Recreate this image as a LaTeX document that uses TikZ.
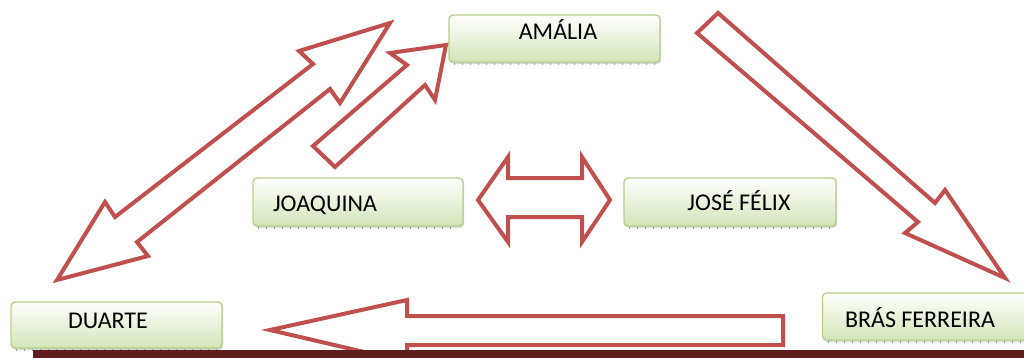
\documentclass[tikz,border=0pt]{standalone}
\usepackage{fontspec}
\setmainfont{Carlito}
\usetikzlibrary{shadows}
\definecolor{arrowred}{HTML}{C0504D}
\definecolor{boxline}{HTML}{B5CF87}
\definecolor{boxbottom}{HTML}{D3E5B8}
\definecolor{barcol}{HTML}{5E1E1E}
\tikzset{
  box/.style={draw=boxline, line width=1.4pt, rounded corners=4pt, top color=white, bottom color=boxbottom,
    drop shadow={shadow xshift=1.2pt, shadow yshift=-2pt, opacity=0.45, fill=gray!70}, inner sep=0pt},
  lbl/.style={inner sep=0pt, text height=15.5pt, text depth=0pt, font=\fontsize{24}{28}\selectfont},
  blockarrow/.style={draw=arrowred, line width=4pt, fill=white, line join=miter, miter limit=6},
  ticks/.style={draw=gray!80, line width=2pt, dash pattern=on 1pt off 7pt}
}
\begin{document}
\begin{tikzpicture}[x=1pt,y=-1pt]
\useasboundingbox (0,0) rectangle (1024,358);
% boxes
\node[box, minimum width=211pt, minimum height=47pt] (amaliaBox) at (554.5,38.5) {};
\node[box, minimum width=210pt, minimum height=48pt] (joaquinaBox) at (358,202) {};
\node[box, minimum width=212pt, minimum height=48pt] (joseBox) at (730,202) {};
\node[box, minimum width=211pt, minimum height=46pt] (duarteBox) at (116.5,325) {};
\node[box, minimum width=215pt, minimum height=47pt] (brasBox) at (930,316.5) {};
\foreach \b in {amaliaBox,joaquinaBox,joseBox,duarteBox,brasBox}{
  \draw[ticks] ([xshift=6pt,yshift=-1.5pt]\b.south west) -- ([xshift=-6pt,yshift=-1.5pt]\b.south east);
}
% labels
\node[lbl] (amalia) at (558,32) {AMÁLIA};
\node[lbl] (joaquina) at (325,204) {JOAQUINA};
\node[lbl] (jose) at (739,203) {JOSÉ FÉLIX};
\node[lbl] (duarte) at (108,321) {DUARTE};
\node[lbl] (bras) at (920,320) {BRÁS FERREIRA};
% big double arrow (Duarte <-> Amalia)
\draw[blockarrow] (390,23) -- (340,103) -- (330,89) -- (137,242) -- (148,256) -- (57,280)
  -- (105,202) -- (115,217) -- (313,64) -- (299,51) -- cycle;
% small arrow Joaquina -> Amalia
\draw[blockarrow] (446,45) -- (435,100) -- (425,85) -- (335,167) -- (313,146) -- (407,65) -- (390,53) -- cycle;
% arrow Amalia -> Bras
\draw[blockarrow] (718,13) -- (935,203) -- (945,190) -- (1005,278) -- (905,233) -- (918,222) -- (697,33) -- cycle;
% double arrow Joaquina <-> Jose
\draw[blockarrow] (478,200) -- (508,157) -- (508,178) -- (582,178) -- (582,157) -- (610,200)
  -- (582,242) -- (582,217) -- (508,217) -- (508,242) -- cycle;
% arrow Bras -> Duarte
\draw[blockarrow] (270,330) -- (407,300) -- (407,316) -- (783,316) -- (783,345) -- (407,345) -- (407,362) -- cycle;
% bottom bar
\fill[barcol] (33,350) rectangle (1024,358);
\end{tikzpicture}
\end{document}
